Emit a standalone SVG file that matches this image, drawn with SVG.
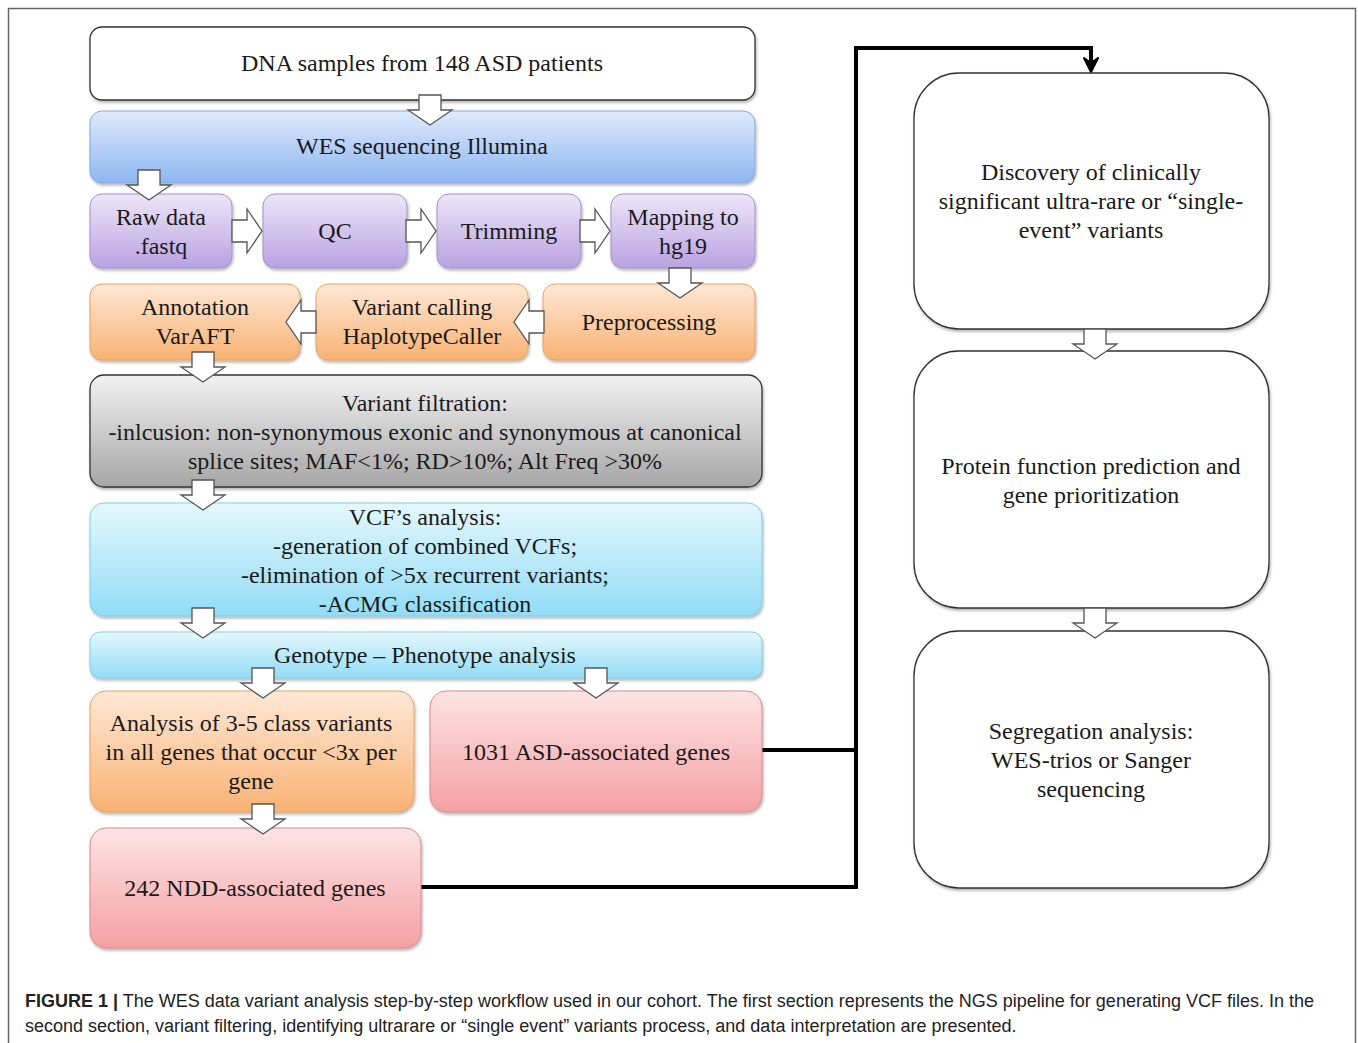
<svg xmlns="http://www.w3.org/2000/svg" width="1358" height="1043" viewBox="0 0 1358 1043">
<style>
.t{font-family:"Liberation Serif","Times New Roman",serif;font-size:24px;fill:#1a1a1a;text-anchor:middle}
.cap{font-family:"Liberation Sans",Arial,sans-serif;font-size:18px;fill:#222}
.blk{fill:#fff;stroke:#555;stroke-width:1.3}
.con{fill:none;stroke:#000;stroke-width:4;stroke-linejoin:miter}
</style>
<defs>
<linearGradient id="gBlue" x1="0" y1="0" x2="0" y2="1"><stop offset="0" stop-color="#dfeafc"/><stop offset="1" stop-color="#8db6f1"/></linearGradient>
<linearGradient id="gPurple" x1="0" y1="0" x2="0" y2="1"><stop offset="0" stop-color="#ede6f8"/><stop offset="1" stop-color="#b9a2e2"/></linearGradient>
<linearGradient id="gOrange" x1="0" y1="0" x2="0" y2="1"><stop offset="0" stop-color="#fee8d6"/><stop offset="1" stop-color="#f8b273"/></linearGradient>
<linearGradient id="gGray" x1="0" y1="0" x2="0" y2="1"><stop offset="0" stop-color="#f2f2f2"/><stop offset="1" stop-color="#a6a6a6"/></linearGradient>
<linearGradient id="gCyan" x1="0" y1="0" x2="0" y2="1"><stop offset="0" stop-color="#e4f8fe"/><stop offset="1" stop-color="#92dcf5"/></linearGradient>
<linearGradient id="gPink" x1="0" y1="0" x2="0" y2="1"><stop offset="0" stop-color="#fde4e4"/><stop offset="1" stop-color="#f5a0a3"/></linearGradient>
<filter id="sh" x="-5%" y="-5%" width="110%" height="115%"><feDropShadow dx="1" dy="2" stdDeviation="1.5" flood-color="#000" flood-opacity="0.3"/></filter>
<path id="dArrow" d="M-11,0 H11 V15 H22 L0,30 L-22,15 H-11 Z"/>
</defs>

<rect x="8.5" y="8.5" width="1347" height="1040" fill="#fff" stroke="#666" stroke-width="1.5"/>

<g id="connectors">
<path class="con" d="M762,750 H856 M421,887 H856 V48 H1091 V66"/>
<path d="M1084,58 L1091,72 L1098,58 L1091,63 Z" fill="#000" stroke="#000" stroke-width="2" stroke-linejoin="round"/>
</g>

<g id="n_dna"><rect x="90" y="27" width="665" height="73" rx="12" fill="#fff" stroke="#333" stroke-width="1.3" filter="url(#sh)"/><text class="t" x="422" y="71">DNA samples from 148 ASD patients</text></g>
<g id="n_wes"><rect x="90" y="111" width="665" height="72" rx="12" fill="url(#gBlue)" stroke="#86a9da" stroke-width="1" filter="url(#sh)"/><text class="t" x="422" y="154">WES sequencing Illumina</text></g>
<g id="n_raw"><rect x="90" y="194" width="142" height="74" rx="12" fill="url(#gPurple)" stroke="#a590cf" stroke-width="1" filter="url(#sh)"/><text class="t" x="161" y="225">Raw data</text><text class="t" x="161" y="254">.fastq</text></g>
<g id="n_qc"><rect x="263" y="194" width="144" height="74" rx="12" fill="url(#gPurple)" stroke="#a590cf" stroke-width="1" filter="url(#sh)"/><text class="t" x="335" y="239">QC</text></g>
<g id="n_trim"><rect x="437" y="194" width="144" height="74" rx="12" fill="url(#gPurple)" stroke="#a590cf" stroke-width="1" filter="url(#sh)"/><text class="t" x="509" y="239">Trimming</text></g>
<g id="n_map"><rect x="611" y="194" width="144" height="74" rx="12" fill="url(#gPurple)" stroke="#a590cf" stroke-width="1" filter="url(#sh)"/><text class="t" x="683" y="225">Mapping to</text><text class="t" x="683" y="254">hg19</text></g>
<g id="n_annot"><rect x="90" y="284" width="210" height="76" rx="12" fill="url(#gOrange)" stroke="#e8a365" stroke-width="1" filter="url(#sh)"/><text class="t" x="195" y="315">Annotation</text><text class="t" x="195" y="344">VarAFT</text></g>
<g id="n_call"><rect x="316" y="284" width="212" height="76" rx="12" fill="url(#gOrange)" stroke="#e8a365" stroke-width="1" filter="url(#sh)"/><text class="t" x="422" y="315">Variant calling</text><text class="t" x="422" y="344">HaplotypeCaller</text></g>
<g id="n_prep"><rect x="543" y="284" width="212" height="76" rx="12" fill="url(#gOrange)" stroke="#e8a365" stroke-width="1" filter="url(#sh)"/><text class="t" x="649" y="330">Preprocessing</text></g>
<g id="n_filt"><rect x="90" y="375" width="672" height="112" rx="14" fill="url(#gGray)" stroke="#333" stroke-width="1.3" filter="url(#sh)"/><text class="t" x="425" y="411">Variant filtration:</text><text class="t" x="425" y="440">-inlcusion: non-synonymous exonic and synonymous at canonical</text><text class="t" x="425" y="469">splice sites; MAF&lt;1%; RD&gt;10%; Alt Freq &gt;30%</text></g>
<g id="n_vcf"><rect x="90" y="503" width="672" height="113" rx="14" fill="url(#gCyan)" stroke="#86cde6" stroke-width="1" filter="url(#sh)"/><text class="t" x="425" y="525">VCF’s analysis:</text><text class="t" x="425" y="554">-generation of combined VCFs;</text><text class="t" x="425" y="583">-elimination of &gt;5x recurrent variants;</text><text class="t" x="425" y="612">-ACMG classification</text></g>
<g id="n_geno"><rect x="90" y="632" width="672" height="46" rx="10" fill="url(#gCyan)" stroke="#86cde6" stroke-width="1" filter="url(#sh)"/><text class="t" x="425" y="663">Genotype – Phenotype analysis</text></g>
<g id="n_anal"><rect x="90" y="691" width="324" height="121" rx="16" fill="url(#gOrange)" stroke="#e8a365" stroke-width="1" filter="url(#sh)"/><text class="t" x="251" y="731">Analysis of 3-5 class variants</text><text class="t" x="251" y="760">in all genes that occur &lt;3x per</text><text class="t" x="251" y="789">gene</text></g>
<g id="n_asd"><rect x="430" y="691" width="332" height="121" rx="16" fill="url(#gPink)" stroke="#d88a8c" stroke-width="1" filter="url(#sh)"/><text class="t" x="596" y="760">1031 ASD-associated genes</text></g>
<g id="n_ndd"><rect x="90" y="828" width="331" height="120" rx="16" fill="url(#gPink)" stroke="#d88a8c" stroke-width="1" filter="url(#sh)"/><text class="t" x="255" y="896">242 NDD-associated genes</text></g>

<g id="n_disc"><rect x="914" y="73" width="355" height="256" rx="45" fill="#fff" stroke="#333" stroke-width="1.3" filter="url(#sh)"/><text class="t" x="1091" y="180">Discovery of clinically</text><text class="t" x="1091" y="209">significant ultra-rare or “single-</text><text class="t" x="1091" y="238">event” variants</text></g>
<g id="n_prot"><rect x="914" y="351" width="355" height="257" rx="45" fill="#fff" stroke="#333" stroke-width="1.3" filter="url(#sh)"/><text class="t" x="1091" y="474">Protein function prediction and</text><text class="t" x="1091" y="503">gene prioritization</text></g>
<g id="n_seg"><rect x="914" y="631" width="355" height="257" rx="45" fill="#fff" stroke="#333" stroke-width="1.3" filter="url(#sh)"/><text class="t" x="1091" y="739">Segregation analysis:</text><text class="t" x="1091" y="768">WES-trios or Sanger</text><text class="t" x="1091" y="797">sequencing</text></g>

<g id="block_arrows">
<use href="#dArrow" class="blk" transform="translate(430,95)"/>
<use href="#dArrow" class="blk" transform="translate(149,170)"/>
<use href="#dArrow" class="blk" transform="translate(248,231) rotate(-90) translate(0,-16)"/>
<use href="#dArrow" class="blk" transform="translate(422,231) rotate(-90) translate(0,-16)"/>
<use href="#dArrow" class="blk" transform="translate(596,231) rotate(-90) translate(0,-16)"/>
<use href="#dArrow" class="blk" transform="translate(680,268)"/>
<use href="#dArrow" class="blk" transform="translate(528,322) rotate(90) translate(0,-16)"/>
<use href="#dArrow" class="blk" transform="translate(300,322) rotate(90) translate(0,-16)"/>
<use href="#dArrow" class="blk" transform="translate(203,352)"/>
<use href="#dArrow" class="blk" transform="translate(203,480)"/>
<use href="#dArrow" class="blk" transform="translate(203,608)"/>
<use href="#dArrow" class="blk" transform="translate(263,668)"/>
<use href="#dArrow" class="blk" transform="translate(596,668)"/>
<use href="#dArrow" class="blk" transform="translate(263,804)"/>
<use href="#dArrow" class="blk" transform="translate(1095,329)"/>
<use href="#dArrow" class="blk" transform="translate(1095,608)"/>
</g>

<text class="cap" x="25" y="1007"><tspan font-weight="bold">FIGURE 1 |</tspan> The WES data variant analysis step-by-step workflow used in our cohort. The first section represents the NGS pipeline for generating VCF files. In the</text>
<text class="cap" x="25" y="1032">second section, variant filtering, identifying ultrarare or “single event” variants process, and data interpretation are presented.</text>
</svg>
